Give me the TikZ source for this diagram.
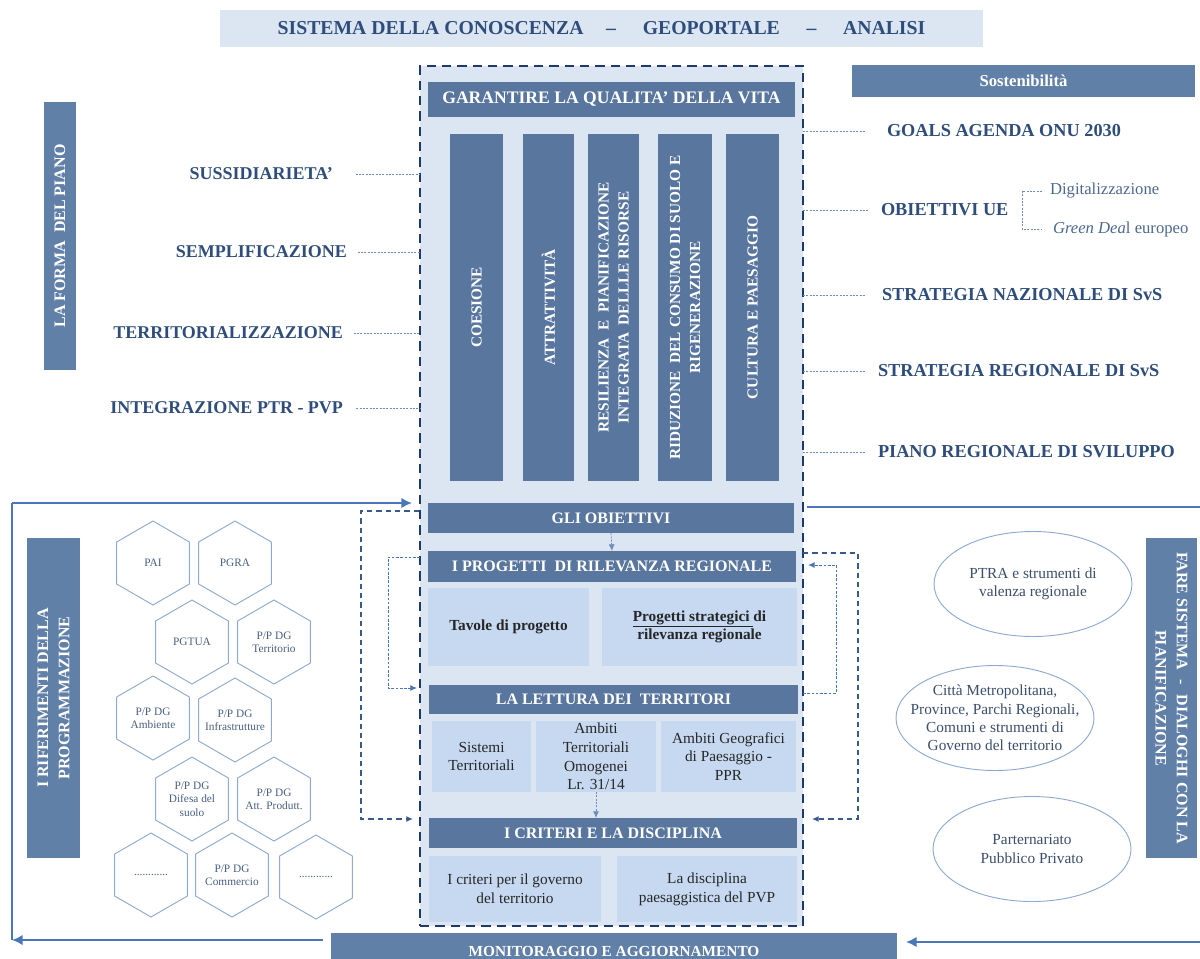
\documentclass[tikz,border=0pt]{standalone}
\usepackage{fontspec}
\setmainfont{Liberation Serif}
\usetikzlibrary{shapes.geometric,arrows.meta,calc}
\definecolor{bar}{HTML}{58769E}
\definecolor{sidebar}{HTML}{6180A8}
\definecolor{pale}{HTML}{DCE6F2}
\definecolor{lite}{HTML}{C6D9F1}
\definecolor{navy}{HTML}{2E4D7B}
\definecolor{dashc}{HTML}{1F3A68}
\definecolor{flow}{HTML}{4A77B9}
\definecolor{dotc}{HTML}{6D8DBA}
\definecolor{hexc}{HTML}{8FAAD0}
\definecolor{hextc}{HTML}{4A5F80}
\definecolor{eltc}{HTML}{3B4E6B}
\definecolor{bodyt}{HTML}{262626}
\newcommand{\mkbox}[7]{%
  \pgfmathsetmacro{\mkw}{(#5-#3)*0.75}%
  \pgfmathsetmacro{\mkh}{(#6-#4)*0.75}%
  \node[#2, minimum width=\mkw pt, minimum height=\mkh pt] (#1) at ({(#3+#5)/2},{(#4+#6)/2}) {#7};}
\newcommand{\mkvbox}[7]{%
  \pgfmathsetmacro{\mkw}{(#5-#3)*0.75}%
  \pgfmathsetmacro{\mkh}{(#6-#4)*0.75}%
  \node[#2, minimum width=\mkh pt, minimum height=\mkw pt] (#1) at ({(#3+#5)/2},{(#4+#6)/2}) {#7};}
\tikzset{
  every node/.style={inner sep=0pt, outer sep=0pt},
  darkbar/.style={fill=bar, text=white, font=\bfseries\fontsize{12}{14}\selectfont, align=center},
  colbox/.style={fill=bar, text=white, font=\bfseries\fontsize{11.5}{15}\selectfont, align=center, rotate=90},
  sidebox/.style={fill=sidebar, text=white, font=\bfseries\fontsize{12}{16}\selectfont, align=center},
  litebox/.style={fill=lite, text=bodyt, font=\fontsize{11.5}{14}\selectfont, align=center},
  boldlite/.style={litebox, font=\bfseries\fontsize{11.5}{14}\selectfont},
  lefttxt/.style={text=navy, font=\bfseries\fontsize{13.5}{16}\selectfont, anchor=east},
  righttxt/.style={text=navy, font=\bfseries\fontsize{13.7}{16}\selectfont, anchor=west},
  subtxt/.style={text=navy!85, font=\fontsize{12.5}{14}\selectfont, anchor=west},
  dotline/.style={draw=dotc, line width=0.6pt, dash pattern=on 1.5pt off 1pt},
  loopdash/.style={draw=flow!75!black, line width=1.1pt, dash pattern=on 4pt off 3pt},
  loopdot/.style={draw=flow, line width=0.7pt, dash pattern=on 2pt off 1.2pt},
  flowline/.style={draw=flow, line width=2pt},
  smalltip/.style={-{Latex[length=5pt,width=4.5pt]}},
  bigtip/.style={-{Latex[length=8pt,width=8pt]}},
  hexs/.style={draw=hexc, line width=0.7pt},
  hexlabel/.style={text=hextc, font=\fontsize{8.5}{10}\selectfont, align=center},
  ell/.style={ellipse, draw=hexc, line width=0.7pt, minimum width=148.5pt, minimum height=78.75pt},
  elltext/.style={text=eltc, font=\fontsize{11.5}{13.7}\selectfont, align=center},
}
\begin{document}
\begin{tikzpicture}[x=0.75pt,y=-0.75pt]
\useasboundingbox (0,0) rectangle (1200,958);
\fill[white] (0,0) rectangle (1200,958);

% title and top
\mkbox{title}{fill=pale, text=navy, font=\bfseries\fontsize{14.8}{16}\selectfont}{220}{10}{983}{47}{SISTEMA DELLA CONOSCENZA\hspace{17pt}–\hspace{20pt}GEOPORTALE\hspace{20pt}–\hspace{20pt}ANALISI}
\mkbox{sost}{sidebox, font=\bfseries\fontsize{12.5}{14}\selectfont}{852}{65}{1195}{97}{Sostenibilità}

% central dashed frame
\mkbox{core}{fill=pale, draw=dashc, line width=2.2pt, dash pattern=on 7pt off 4.5pt}{420}{66}{803}{926}{}

\mkbox{gqv}{darkbar, font=\bfseries\fontsize{13.2}{15}\selectfont}{428}{82}{795}{117}{GARANTIRE LA QUALITA’ DELLA VITA}

\mkvbox{c1}{colbox}{450}{134}{503}{481}{COESIONE}
\mkvbox{c2}{colbox}{523}{134}{574}{481}{ATTRATTIVITÀ}
\mkvbox{c3}{colbox}{588}{134}{639}{481}{RESILIENZA\ \ E\ \ PIANIFICAZIONE\\INTEGRATA\ \ DELLLE RISORSE}
\mkvbox{c4}{colbox}{658}{134}{712}{481}{RIDUZIONE\ \ DEL CONSUMO DI SUOLO E\\RIGENERAZIONE}
\mkvbox{c5}{colbox}{726}{134}{779}{481}{CULTURA E PAESAGGIO}

\mkbox{obj}{darkbar}{428}{503}{794}{533}{GLI OBIETTIVI}
\mkbox{prog}{darkbar}{428}{551}{796}{582}{I PROGETTI\ \ DI RILEVANZA REGIONALE}
\mkbox{tav}{boldlite}{428}{588}{589}{666}{Tavole di progetto}
\mkbox{pstr}{boldlite}{602}{588}{797}{666}{\underline{Progetti strategici }di\\rilevanza regionale}
\mkbox{lett}{darkbar}{429}{685}{798}{714}{LA LETTURA DEI\ \ TERRITORI}
\mkbox{sist}{litebox}{432}{721}{531}{792}{Sistemi\\Territoriali}
\mkbox{atom}{litebox}{536}{721}{656}{792}{Ambiti\\Territoriali\\Omogenei\\Lr. 31/14}
\mkbox{ageo}{litebox}{661}{721}{796}{792}{Ambiti Geografici\\di Paesaggio -\\PPR}
\mkbox{crit}{darkbar}{429}{818}{797}{848}{I CRITERI E LA DISCIPLINA}
\mkbox{cgov}{litebox}{429}{856}{601}{922}{I criteri per il governo\\del territorio}
\mkbox{cdis}{litebox}{617}{856}{797}{922}{La disciplina\\paesaggistica del PVP}

\mkbox{mon}{darkbar, fill=sidebar, font=\bfseries\fontsize{11.5}{14}\selectfont}{331}{933}{897}{970}{MONITORAGGIO E AGGIORNAMENTO}

\draw[dotline, smalltip] (obj.south) -- (prog.north);
\draw[dotline, smalltip] (atom.south) -- (atom.south |- crit.north);

% side bars
\mkvbox{lfp}{sidebox, rotate=90}{44}{102}{76}{370}{LA FORMA\ \ DEL PIANO}
\mkvbox{rif}{sidebox, rotate=90}{27}{538}{80}{858}{I RIFERIMENTI DELLA\\PROGRAMMAZIONE}
\mkvbox{fare}{sidebox, rotate=-90}{1146}{538}{1197}{858}{FARE SISTEMA\hspace{7pt}-\hspace{7pt}DIALOGHI CON LA\\PIANIFICAZIONE}

% left labels
\node[lefttxt] (sus) at (333,174) {SUSSIDIARIETA’};
\node[lefttxt] (sem) at (347,252) {SEMPLIFICAZIONE};
\node[lefttxt] (ter) at (343,333) {TERRITORIALIZZAZIONE};
\node[lefttxt] (int) at (343,408) {INTEGRAZIONE PTR - PVP};
\draw[dotline] ([xshift=17pt]sus.east) -- (sus.east -| core.west);
\draw[dotline] ([xshift=8pt]sem.east) -- (sem.east -| core.west);
\draw[dotline] ([xshift=8pt]ter.east) -- (ter.east -| core.west);
\draw[dotline] ([xshift=10pt]int.east) -- (int.east -| core.west);

% right labels
\node[righttxt] (goal) at (887,131) {GOALS AGENDA ONU 2030};
\node[righttxt] (oue) at (881,210) {OBIETTIVI UE};
\node[righttxt] (snaz) at (882,295) {STRATEGIA NAZIONALE DI SvS};
\node[righttxt] (sreg) at (878,371) {STRATEGIA REGIONALE DI SvS};
\node[righttxt] (prs) at (878,452) {PIANO REGIONALE DI SVILUPPO};
\draw[dotline] (core.east |- goal.west) -- ([xshift=-16pt]goal.west);
\draw[dotline] (core.east |- oue.west) -- ([xshift=-10pt]oue.west);
\draw[dotline] (core.east |- snaz.west) -- ([xshift=-12pt]snaz.west);
\draw[dotline] (core.east |- sreg.west) -- ([xshift=-9pt]sreg.west);
\draw[dotline] (core.east |- prs.west) -- ([xshift=-10pt]prs.west);

\node[subtxt] (dig) at (1050,191) {Digitalizzazione};
\node[subtxt] (gd) at (1053,229) {\textit{Green Dea}l europeo};
\draw[dotline] ([xshift=-6pt]dig.west) -- ++(-20,0) |- ([xshift=-8pt]gd.west);

% hexagons
\node[hexlabel] (h1) at (153,563) {PAI};
\node[hexlabel] (h2) at (235,563) {PGRA};
\node[hexlabel] (h3) at (192,642) {PGTUA};
\node[hexlabel] (h4) at (274,642) {P/P DG\\Territorio};
\node[hexlabel] (h5) at (153,718) {P/P DG\\Ambiente};
\node[hexlabel] (h6) at (235,720) {P/P DG\\Infrastrutture};
\node[hexlabel] (h7) at (192,799) {P/P DG\\Difesa del\\suolo};
\node[hexlabel] (h8) at (274,799) {P/P DG\\Att. Produtt.};
\node[hexlabel] (h9) at (151,875) {............};
\node[hexlabel] (h10) at (232,875) {P/P DG\\Commercio};
\node[hexlabel] (h11) at (316,877) {............};
\foreach \h in {h1,h2,h3,h4,h5,h6,h7,h8,h9,h10,h11}
  \draw[hexs] (\h) +(90:42) -- +(150:42) -- +(210:42) -- +(270:42) -- +(330:42) -- +(30:42) -- cycle;

% ellipses
\node[ell] (e1) at (1033,584) {};
\node[elltext] at (e1) {PTRA e strumenti di\\valenza regionale};
\node[ell] (e2) at (995,718) {};
\node[elltext] at (e2) {Città Metropolitana,\\Province, Parchi Regionali,\\Comuni e strumenti di\\Governo del territorio};
\node[ell] (e3) at (1032,849) {};
\node[elltext] at (e3) {Parternariato\\Pubblico Privato};

% feedback loops
\coordinate (lA) at (419,511);
\coordinate (lB) at (413,819);
\coordinate (lC) at (420,557);
\coordinate (lD) at (417,688);
\coordinate (rA) at (803,553);
\coordinate (rB) at (812,819);
\coordinate (rC) at (803,693);
\coordinate (rD) at (808,565);
\draw[loopdash, smalltip] (lA) -- ++(-58,0) |- (lB);
\draw[loopdot, smalltip] (lC) -- ++(-32,0) |- (lD);
\draw[loopdash, smalltip] (rA) -- ++(55,0) |- (rB);
\draw[loopdot, smalltip] (rC) -- ++(33,0) |- (rD);

% outer flow
\coordinate (tl0) at (12,503);
\coordinate (tl1) at (412,503);
\coordinate (bl0) at (323,940);
\coordinate (bl1) at (12,940);
\coordinate (tr0) at (807,507);
\coordinate (tr1) at (1200,507);
\coordinate (br0) at (1200,942);
\coordinate (br1) at (906,942);
\draw[flowline, bigtip] (tl0) -- (tl1);
\draw[draw=flow, line width=0.9pt] (tl0) -- (bl1);
\draw[flowline, bigtip] (bl0) -- (bl1);
\draw[flowline] (tr0) -- (tr1);
\draw[flowline, bigtip] (br0) -- (br1);
\end{tikzpicture}
\end{document}
